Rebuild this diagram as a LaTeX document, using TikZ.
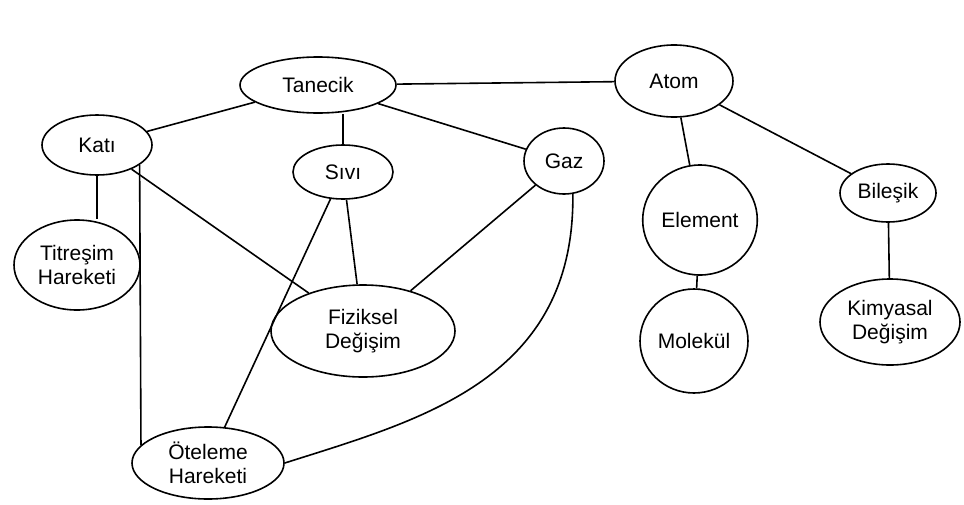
\documentclass[tikz,border=0pt]{standalone}
\usepackage{fontspec}
\setmainfont{Liberation Sans}
\usetikzlibrary{shapes.geometric}

\tikzset{
	kavram/.style={ellipse, draw, line width=0.8pt, align=center, inner sep=1pt, font=\fontsize{10.5}{12}\selectfont},
	bag/.style={line width=0.8pt}
}

\begin{document}
\begin{tikzpicture}[x=0.5pt, y=-0.5pt]
	\useasboundingbox[fill=white] (0,0) rectangle (964,504);
	
	\node[kavram, minimum width=78pt, minimum height=28pt] (tan) at (318,85) {Tanecik};
	\node[kavram, minimum width=59pt, minimum height=36pt] (atom) at (674,81) {Atom};
	\node[kavram, minimum width=55pt, minimum height=30pt] (kati) at (97,145) {Katı};
	\node[kavram, minimum width=50pt, minimum height=27pt] (sivi) at (343,172) {Sıvı};
	\node[kavram, minimum width=40pt, minimum height=33pt] (gaz) at (564,161) {Gaz};
	\node[kavram, minimum width=63pt, minimum height=45pt] (tit) at (77,265) {Titreşim\\Hareketi};
	\node[kavram, minimum width=92pt, minimum height=46pt] (fiz) at (363,331) {Fiziksel\\Değişim};
	\node[kavram, minimum width=76pt, minimum height=36pt] (otel) at (208,463) {Öteleme\\Hareketi};
	\node[kavram, minimum width=41pt, minimum height=55pt] (el) at (700,220) {Element};
	\node[kavram, minimum width=48pt, minimum height=29pt] (bil) at (888,193) {Bileşik};
	\node[kavram, minimum width=54pt, minimum height=52pt] (mol) at (694,341) {Molekül};
	\node[kavram, minimum width=70pt, minimum height=43pt] (kim) at (890,322) {Kimyasal\\Değişim};
	
	\draw[bag] (tan) -- (kati);
	\draw[bag] (sivi.north) -- (sivi.north |- tan.south);
	\draw[bag] (tan) -- (gaz);
	\draw[bag] (tan) -- (atom);
	\draw[bag] (atom) -- (el);
	\draw[bag] (atom) -- (bil);
	\draw[bag] (kati.south) -- (kati.south |- tit.north);
	\draw[bag] (kati) -- (fiz);
	\draw[bag] (kati.-25) -- (otel.165);
	\draw[bag] (sivi) -- (fiz);
	\draw[bag] (sivi) -- (otel);
	\draw[bag] (gaz) -- (fiz);
	\draw[bag] (gaz.-75) .. controls (575,380) and (420,420) .. (otel.east);
	\draw[bag] (el) -- (mol);
	\draw[bag] (bil) -- (kim);
\end{tikzpicture}
\end{document}
